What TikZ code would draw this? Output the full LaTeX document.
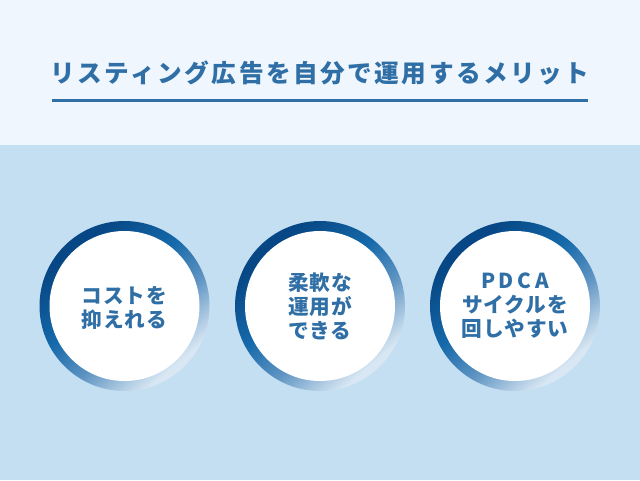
\documentclass[tikz,border=0pt]{standalone}
\usepackage{fontspec}
\newfontfamily\jp{Noto Sans CJK JP}[LetterSpace=4]
\newfontfamily\jptitle{Noto Sans CJK JP}[LetterSpace=10]

\definecolor{topbg}{HTML}{EFF6FD}
\definecolor{lowbg}{HTML}{C4DFF1}
\definecolor{txtblue}{HTML}{2F6FA6}
\definecolor{ringdark}{HTML}{074785}
\definecolor{ringblue}{HTML}{1569AA}
\definecolor{ringpale}{HTML}{5E93C2}
\definecolor{ringlight}{HTML}{D8E7F3}

\pgfdeclareverticalshading{ringfade}{100bp}{color(0bp)=(ringlight); color(27bp)=(ringlight); color(42bp)=(ringpale); color(55bp)=(ringblue); color(72bp)=(ringdark); color(100bp)=(ringdark)}

\tikzset{
  ring/.style={shading=ringfade, shading angle=40},
  merit/.style={font=\jp\bfseries\fontsize{15.5}{18}\selectfont, text=txtblue, align=center},
}

\begin{document}
\begin{tikzpicture}[x=0.75pt,y=0.75pt,yscale=-1,xscale=1]
%background bands
\fill[topbg] (0,0) rectangle (640,145);
\fill[lowbg] (0,145) rectangle (640,480);

% Title
\node[font=\jptitle\bfseries\fontsize{18.5}{22}\selectfont, text=txtblue] (title) at (320,73) {リスティング広告を自分で運用するメリット};
\draw[txtblue, line width=2.25pt] (52,100) -- (588,100);

%Circle 1
\shade[ring] (124.5,306) circle (85);
\fill[white] (124.5,306) circle (75);
\node[merit] (cost) at (124.5,308) {コストを\\抑えれる};

%Circle 2
\shade[ring] (320,306) circle (85);
\fill[white] (320,306) circle (75);
\node[merit] (unyou) at (320,306) {柔軟な\\運用が\\できる};

%Circle 3
\shade[ring] (515,306) circle (85);
\fill[white] (515,306) circle (75);
\node[merit] (pdca) at (515,306) {{\addfontfeature{LetterSpace=18}PDCA}\\サイクルを\\回しやすい};

\end{tikzpicture}
\end{document}
